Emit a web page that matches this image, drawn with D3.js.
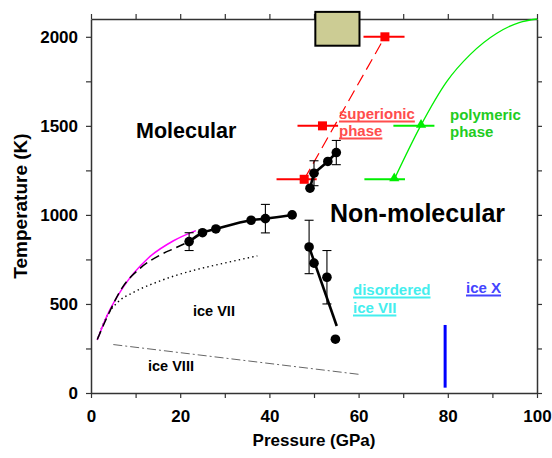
<!DOCTYPE html>
<html>
<head>
<meta charset="utf-8">
<script src="https://cdn.jsdelivr.net/npm/d3@7"></script>
<style>
  html, body { margin: 0; padding: 0; background: #fff; }
  svg { display: block; font-family: Arial, "Liberation Sans", Helvetica, sans-serif; font-weight: bold; }
</style>
</head>
<body>
<svg id="chart" width="552" height="458"></svg>
<script>
// Phase diagram of H2O at high pressure and temperature

// Axis ticks
const xTicks = [0, 10, 20, 30, 40, 50, 60, 70, 80, 90, 100];
const xTickLabels = ["0", "", "20", "", "40", "", "60", "", "80", "", "100"];
const yTicks = [0, 250, 500, 750, 1000, 1250, 1500, 1750, 2000];
const yTickLabels = ["0", "", "500", "", "1000", "", "1500", "", "2000"];

// Melting points, lower branch (GPa, K)
const meltP = [22.0, 25.0, 28.0, 35.9, 39.1, 45.1];
const meltT = [850, 900, 921, 970, 979, 1000];
const meltErr = [50, 0, 0, 0, 80, 0];

// Descending branch
const descP = [48.9, 50.0, 52.9, 54.8];
const descT = [820, 729, 650, 302];
const descErr = [150, 0, 150, 0];
const descFitP = [48.9, 55.1];
const descFitT = [820, 376];

// Upper branch
const upP = [49.1, 50.0, 53.1, 55.0];
const upT = [1150, 1234, 1300, 1350];
const upErr = [0, 70, 0, 68];

// Superionic phase boundary points with pressure ranges
const supP = [47.8, 51.9, 65.9];
const supT = [1200, 1500, 2000];
const supLo = [41.6, 46.3, 61.1];
const supHi = [50.6, 55.4, 70.3];
const supLineP = [47.8, 65.9];
const supLineT = [1200, 2000];

// Polymeric phase boundary
const polyP = [68.0, 74.0];
const polyT = [1200, 1500];
const polyLo = [61.3, 67.8];
const polyHi = [70.4, 77.0];
const polyCurveP = [68.0, 73.9, 79.8, 85.0, 91.0, 96.0, 100.0];
const polyCurveT = [1200, 1500, 1750, 1900, 2020, 2080, 2100];

// Melting curves at low pressure
const magentaP = [1.4, 3.5, 7.3, 12.8, 18.5, 23.5];
const magentaT = [298, 429, 597, 757, 855, 912];
const dashedP = [1.4, 3.5, 6.9, 11.0, 15.5, 18.8, 22.0];
const dashedT = [300, 420, 588, 700, 775, 813, 850];
const dottedP = [1.6, 2.0, 4.0, 6.0, 9.5, 14.0, 19.0, 24.0, 30.0, 37.3];
const dottedT = [310, 340, 450, 510, 565, 615, 660, 695, 730, 770];

// ice VII / ice VIII boundary
const viiiP = [5.0, 60.0];
const viiiT = [272, 105];

// ice X transition
const iceXP = [79.4, 79.4];
const iceXT = [30, 382];

// Shaded box near top
const boxP = [50.3, 60.2];
const boxT = [1950, 2140];

const W = 552, H = 458;
const margin = { left: 91, right: 15, top: 19, bottom: 65 };
const svg = d3.select("#chart");

const x = d3.scaleLinear().domain([0, 100]).range([margin.left, W - margin.right]);
const y = d3.scaleLinear().domain([0, 2100]).range([H - margin.bottom, margin.top]);

const zip = (a, b) => a.map((v, i) => [v, b[i]]);
const line = d3.line().x(d => x(d[0])).y(d => y(d[1]));
const smooth = d3.line().x(d => x(d[0])).y(d => y(d[1])).curve(d3.curveMonotoneX);

// Axes
const axisColor = "#333";
function styleAxis(g) {
  g.select(".domain").attr("stroke", axisColor).attr("stroke-width", 1.5);
  g.selectAll(".tick line").attr("stroke", axisColor).attr("stroke-width", 1.2);
  g.selectAll(".tick text").attr("fill", "#000").style("font-size", "17px").style("font-weight", "bold")
    .style("font-family", "Arial, 'Liberation Sans', sans-serif");
}
svg.append("g").attr("transform", `translate(0,${y(0)})`)
  .call(d3.axisBottom(x).tickValues(xTicks).tickSize(5).tickPadding(12)
    .tickFormat((d, i) => xTickLabels[i]).tickSizeOuter(0))
  .call(styleAxis);
svg.append("g").attr("transform", `translate(0,${y(2100)})`)
  .call(d3.axisTop(x).tickValues(xTicks).tickSize(5).tickFormat("").tickSizeOuter(0))
  .call(styleAxis);
svg.append("g").attr("transform", `translate(${x(0)},0)`)
  .call(d3.axisLeft(y).tickValues(yTicks).tickSize(5).tickPadding(8)
    .tickFormat((d, i) => yTickLabels[i]).tickSizeOuter(0))
  .call(styleAxis);
svg.append("g").attr("transform", `translate(${x(100)},0)`)
  .call(d3.axisRight(y).tickValues(yTicks).tickSize(5).tickFormat("").tickSizeOuter(0))
  .call(styleAxis);

// Axis titles
svg.append("text").attr("x", (x(0) + x(100)) / 2).attr("y", 446)
  .attr("text-anchor", "middle").style("font-size", "17px").text("Pressure (GPa)");
svg.append("text").attr("transform", `translate(27,${(y(0) + y(2100)) / 2}) rotate(-90)`)
  .attr("text-anchor", "middle").style("font-size", "19px").text("Temperature (K)");

// Low-pressure curves
svg.append("path").datum(zip(dottedP, dottedT)).attr("d", smooth)
  .attr("fill", "none").attr("stroke", "#000").attr("stroke-width", 1.4).attr("stroke-dasharray", "1.4,3.2");
svg.append("path").datum(zip(magentaP, magentaT)).attr("d", smooth)
  .attr("fill", "none").attr("stroke", "#ff00ff").attr("stroke-width", 1.5);
svg.append("path").datum(zip(dashedP, dashedT)).attr("d", smooth)
  .attr("fill", "none").attr("stroke", "#000").attr("stroke-width", 1.5).attr("stroke-dasharray", "9,5");
svg.append("path").datum(zip(viiiP, viiiT)).attr("d", line)
  .attr("fill", "none").attr("stroke", "#666").attr("stroke-width", 1).attr("stroke-dasharray", "9,3,2,3");

// Superionic boundary
svg.append("path").datum(zip(supLineP, supLineT)).attr("d", line)
  .attr("fill", "none").attr("stroke", "#ff0000").attr("stroke-width", 1.2).attr("stroke-dasharray", "12,6");
svg.selectAll(".supbar").data(supP).enter().append("line")
  .attr("x1", (d, i) => x(supLo[i])).attr("x2", (d, i) => x(supHi[i]))
  .attr("y1", (d, i) => y(supT[i])).attr("y2", (d, i) => y(supT[i]))
  .attr("stroke", "#ff0000").attr("stroke-width", 2);
svg.selectAll(".supsq").data(supP).enter().append("rect")
  .attr("x", d => x(d) - 4.5).attr("y", (d, i) => y(supT[i]) - 4.5)
  .attr("width", 9).attr("height", 9).attr("fill", "#ff0000");

// Polymeric boundary
svg.append("path").datum(zip(polyCurveP, polyCurveT)).attr("d", smooth)
  .attr("fill", "none").attr("stroke", "#00ee00").attr("stroke-width", 1.3);
svg.selectAll(".polybar").data(polyP).enter().append("line")
  .attr("x1", (d, i) => x(polyLo[i])).attr("x2", (d, i) => x(polyHi[i]))
  .attr("y1", (d, i) => y(polyT[i])).attr("y2", (d, i) => y(polyT[i]))
  .attr("stroke", "#00ee00").attr("stroke-width", 2);
svg.selectAll(".polytri").data(polyP).enter().append("path")
  .attr("d", d3.symbol().type(d3.symbolTriangle).size(45))
  .attr("transform", (d, i) => `translate(${x(d)},${y(polyT[i]) - 1})`)
  .attr("fill", "#00ee00");

// ice X line
svg.append("path").datum(zip(iceXP, iceXT)).attr("d", line)
  .attr("fill", "none").attr("stroke", "#0000ff").attr("stroke-width", 3);

// Experimental points with vertical error bars
function errorBars(P, T, E) {
  const g = svg.append("g").attr("stroke", "#000").attr("stroke-width", 1.1);
  P.forEach((p, i) => {
    if (!E[i]) return;
    const cx = x(p), t = y(T[i] + E[i]), b = y(T[i] - E[i]);
    g.append("line").attr("x1", cx).attr("x2", cx).attr("y1", t).attr("y2", b);
    g.append("line").attr("x1", cx - 4.5).attr("x2", cx + 4.5).attr("y1", t).attr("y2", t);
    g.append("line").attr("x1", cx - 4.5).attr("x2", cx + 4.5).attr("y1", b).attr("y2", b);
  });
}
function dots(P, T) {
  svg.append("g").selectAll("circle").data(P).enter().append("circle")
    .attr("cx", d => x(d)).attr("cy", (d, i) => y(T[i])).attr("r", 4.8).attr("fill", "#000");
}
const thick = { fill: "none", stroke: "#000", "stroke-width": 2.6 };
function thickPath(data, gen) {
  const p = svg.append("path").datum(data).attr("d", gen);
  Object.entries(thick).forEach(([k, v]) => p.attr(k, v));
}

errorBars(meltP, meltT, meltErr);
thickPath(zip(meltP, meltT), smooth);
dots(meltP, meltT);

errorBars(descP, descT, descErr);
thickPath(zip(descFitP, descFitT), line);
dots(descP, descT);

errorBars(upP, upT, upErr);
thickPath(zip(upP, upT), line);
dots(upP, upT);

// Shaded box
svg.append("rect")
  .attr("x", x(boxP[0])).attr("y", y(boxT[1]))
  .attr("width", x(boxP[1]) - x(boxP[0])).attr("height", y(boxT[0]) - y(boxT[1]))
  .attr("fill", "#cccc94").attr("stroke", "#000").attr("stroke-width", 2);

// Labels
function label(txt, px, py, size, color, underline) {
  const t = svg.append("text").attr("x", px).attr("y", py)
    .style("font-size", size + "px").attr("fill", color).text(txt);
  if (underline) {
    const w = t.node().getComputedTextLength();
    svg.append("rect").attr("x", px).attr("y", py + 1.5).attr("width", w).attr("height", 2).attr("fill", color);
  }
}
label("Molecular", 136, 138, 21.5, "#000", false);
label("Non-molecular", 330, 222, 25, "#000", false);
label("superionic", 339, 119, 15, "#ff4d4d", true);
label("phase", 339, 136, 15, "#ff4d4d", true);
label("polymeric", 450, 120, 15, "#22cc22", false);
label("phase", 450, 137, 15, "#22cc22", false);
label("ice VII", 193, 316, 14.5, "#000", false);
label("ice VIII", 148, 371, 14.5, "#000", false);
label("disordered", 353, 295, 15, "#44eeee", true);
label("ice VII", 353, 313, 15, "#44eeee", true);
label("ice X", 466, 293, 15, "#4444ff", true);
</script>
</body>
</html>
